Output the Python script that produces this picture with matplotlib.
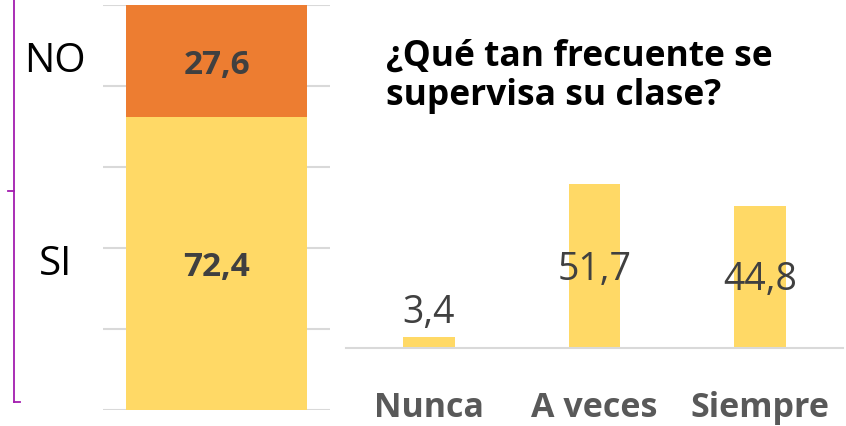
import matplotlib.pyplot as plt
from matplotlib.lines import Line2D

# datos
resp_labels = ['SI', 'NO']
resp_values = [72.4, 27.6]
resp_colors = ['#FFD966', '#ED7D31']

freq_labels = ['Nunca', 'A veces', 'Siempre']
freq_values = [3.4, 51.7, 44.8]
freq_label_y = [11.3, 24.9, 21.8]   # posición de las etiquetas (escala de datos)

W, H = 846, 427
plt.rcParams['font.family'] = ['Open Sans', 'DejaVu Sans']
fig = plt.figure(figsize=(W / 100, H / 100), dpi=100)


def box(x0, y0, x1, y1):
    # pixeles (origen arriba-izquierda) -> fracción de figura
    return [x0 / W, 1 - y1 / H, (x1 - x0) / W, (y1 - y0) / H]


# barra apilada izquierda
ax1 = fig.add_axes(box(103, 6, 330, 411))
bottom = 0
for lab, val, col in zip(resp_labels, resp_values, resp_colors):
    ax1.bar(0, val, bottom=bottom, width=0.793, color=col, zorder=2)
    ax1.text(0, bottom + val / 2 - 0.8, f'{val:.1f}'.replace('.', ','), ha='center', va='center',
             fontsize=24, fontweight='bold', color='#404040', zorder=3)
    ax1.text(-0.71, bottom + val / 2, lab, ha='center', va='center', fontsize=29,
             color='black', clip_on=False)
    bottom += val
ax1.set_xlim(-0.5, 0.5)
ax1.set_ylim(0, 100)
ax1.set_yticks(range(0, 101, 20))
ax1.yaxis.grid(True, color='#D9D9D9', linewidth=1.5, zorder=0)
ax1.tick_params(left=False, bottom=False, labelleft=False, labelbottom=False)
for s in ax1.spines.values():
    s.set_visible(False)

# corchete morado
pc = '#A21CAF'
for xs, ys in [([14, 14], [0, 403]), ([14, 20], [403, 403]), ([8, 14], [192, 192])]:
    fig.add_artist(Line2D([x / W for x in xs], [1 - y / H for y in ys], color=pc, linewidth=1.3))

# barras de frecuencia
ax2 = fig.add_axes(box(346, 158.7, 843, 349))
xs = range(len(freq_values))
ax2.bar(xs, freq_values, width=0.31, color='#FFD966', zorder=2)
for x, v, ly in zip(xs, freq_values, freq_label_y):
    ax2.text(x, ly, f'{v:.1f}'.replace('.', ','), ha='center', va='center', fontsize=27,
             color='#404040', zorder=3)
ax2.set_xlim(-0.5, 2.5)
ax2.set_ylim(0, 60)
ax2.set_xticks(list(xs))
ax2.set_xticklabels(freq_labels, fontsize=24.5, fontweight='bold', color='#595959')
ax2.tick_params(left=False, bottom=False, labelleft=False, pad=27)
for s in ['top', 'right', 'left']:
    ax2.spines[s].set_visible(False)
ax2.spines['bottom'].set_color('#D9D9D9')
ax2.spines['bottom'].set_linewidth(1.5)

fig.text(386 / W, 1 - 76 / H, '¿Qué tan frecuente se\nsupervisa su clase?', ha='left', va='center',
         fontsize=25.5, fontweight='bold', color='black', linespacing=1.12)

fig.savefig('out.png', dpi=100)
